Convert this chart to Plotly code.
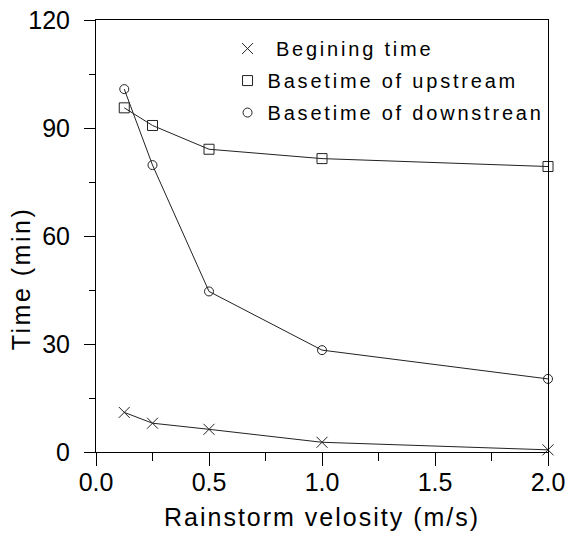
import plotly.graph_objects as go

velocity = [0.125, 0.25, 0.5, 1.0, 2.0]
begin_time = [11.0, 8.0, 6.3, 2.7, 0.6]
upstream_time = [95.6, 90.7, 84.1, 81.5, 79.3]
downstream_time = [100.8, 79.7, 44.6, 28.3, 20.3]

series_names = ["Begining time", "Basetime of upstream", "Basetime of downstrean"]
x_ticks = [0.0, 0.5, 1.0, 1.5, 2.0]
x_ticklabels = ["0.0", "0.5", "1.0", "1.5", "2.0"]
y_ticks = [0, 30, 60, 90, 120]
y_ticklabels = ["0", "30", "60", "90", "120"]

FONT = "Liberation Sans, Arial, sans-serif"


def spaced(text, px):
    return f'<span style="letter-spacing:{px}px">{text}</span>'


# the reference legend centres its labels; a small lead-in mimics that
legend_lead = ["\u00a0", "", ""]

fig = go.Figure()
specs = [
    (begin_time, series_names[0], "x-thin-open", 11, "g1"),
    (upstream_time, series_names[1], "square-open", 10, "g2"),
    (downstream_time, series_names[2], "circle-open", 9, "g3"),
]
# connecting lines
for ys, name, sym, size, grp in specs:
    fig.add_trace(go.Scatter(
        x=velocity, y=ys, mode="lines", showlegend=False, hoverinfo="skip",
        line=dict(color="#222222", width=1), cliponaxis=False,
    ))
# markers (legend entries show only the symbol)
for i, (ys, name, sym, size, grp) in enumerate(specs):
    fig.add_trace(go.Scatter(
        x=velocity, y=ys, name=spaced(legend_lead[i] + name, 2.8), mode="markers",
        legendgroup=grp,
        marker=dict(symbol=sym, size=size, color="#222222",
                    line=dict(width=1, color="#222222")),
        cliponaxis=False,
    ))

fig.update_layout(
    width=570, height=540,
    margin=dict(l=96, r=22, t=20, b=88, autoexpand=False),
    paper_bgcolor="white", plot_bgcolor="white",
    font=dict(family=FONT, color="black", size=24),
    showlegend=True,
    legend=dict(x=0.291, y=0.979, xanchor="left", yanchor="top",
                bgcolor="rgba(0,0,0,0)", font=dict(size=20, color="black"),
                traceorder="grouped", tracegroupgap=3),
    xaxis=dict(range=[0, 2.0], tickvals=x_ticks, ticktext=x_ticklabels,
               automargin=False, ticklabelstandoff=-5, ticklabeloverflow="allow",
               showgrid=False, zeroline=False, showline=True, linecolor="black",
               linewidth=1, mirror=True, ticks="outside", ticklen=13,
               tickcolor="black", tickfont=dict(size=25),
               minor=dict(dtick=0.25, ticks="outside", ticklen=8, tickcolor="black")),
    yaxis=dict(range=[0, 120], tickvals=y_ticks, ticktext=y_ticklabels,
               automargin=False, ticklabelstandoff=9, ticklabeloverflow="allow",
               showgrid=False, zeroline=False, showline=True, linecolor="black",
               linewidth=1, mirror=True, ticks="outside", ticklen=11,
               tickcolor="black", tickfont=dict(size=25),
               minor=dict(dtick=15, ticks="outside", ticklen=6, tickcolor="black")),
)

fig.add_annotation(text=spaced("Rainstorm velosity (m/s)", 2.0), xref="paper", yref="paper",
                   x=0.5, y=-0.150, xanchor="center", yanchor="middle",
                   showarrow=False, font=dict(size=25, family=FONT, color="black"))
fig.add_annotation(text=spaced("Time (min)", 2.5), xref="paper", yref="paper",
                   x=-0.166, y=0.402, xanchor="center", yanchor="middle",
                   textangle=-90, showarrow=False,
                   font=dict(size=25, family=FONT, color="black"))

# remove the browser's default 8px body margin so the chart fills the window exactly
fig.write_html("out.html", config={"displayModeBar": False},
               post_script="document.body.style.margin='0';")
